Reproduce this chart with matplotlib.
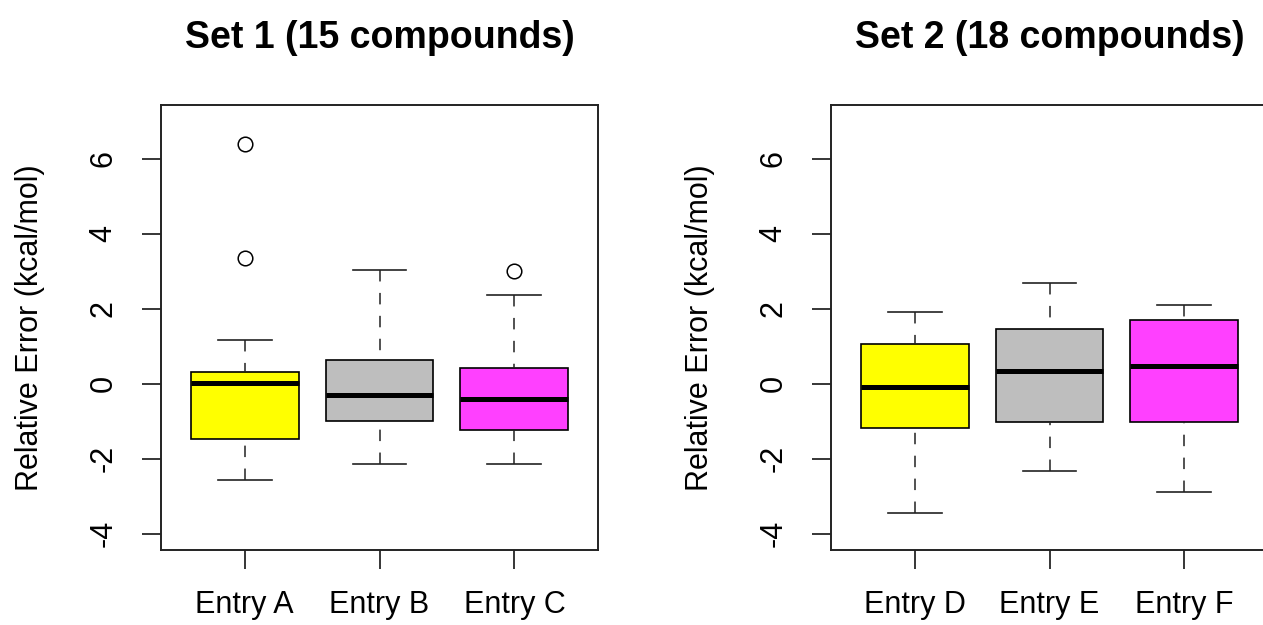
import matplotlib
matplotlib.use("Agg")
import matplotlib.pyplot as plt

# ------------------ data ------------------
SET1_TITLE  = "Set 1 (15 compounds)"
SET1_LABELS = ["Entry A", "Entry B", "Entry C"]
SET1_WHISLO = [-2.57, -2.15, -2.15]
SET1_Q1     = [-1.48, -1.00, -1.24]
SET1_MED    = [0.01, -0.29, -0.42]
SET1_Q3     = [0.31, 0.64, 0.42]
SET1_WHISHI = [1.16, 3.04, 2.37]
SET1_FLIERS = [[6.39, 3.35], [], [3.02]]

SET2_TITLE  = "Set 2 (18 compounds)"
SET2_LABELS = ["Entry D", "Entry E", "Entry F"]
SET2_WHISLO = [-3.44, -2.34, -2.89]
SET2_Q1     = [-1.19, -1.02, -1.03]
SET2_MED    = [-0.08, 0.33, 0.47]
SET2_Q3     = [1.07, 1.46, 1.69]
SET2_WHISHI = [1.91, 2.68, 2.11]
SET2_FLIERS = [[], [], []]

BOX_COLORS = ["#FFFF00", "#BEBEBE", "#FF40FF"]
Y_TICKS    = [-4, -2, 0, 2, 4, 6]
YLABEL     = "Relative Error (kcal/mol)"
# -----------------------------------------------------------------

plt.rcParams["font.family"] = ["Liberation Sans", "DejaVu Sans"]

W, H = 1263, 625
fig = plt.figure(figsize=(W / 100, H / 100), dpi=100)


def px_axes(left, top, right, bottom):
    return fig.add_axes([left / W, 1 - bottom / H, (right - left) / W, (bottom - top) / H])


def draw_panel(ax, title, labels, whislo, q1, med, q3, whishi, fliers):
    stats = []
    for i in range(len(labels)):
        stats.append({
            "label": labels[i],
            "whislo": whislo[i],
            "q1": q1[i],
            "med": med[i],
            "q3": q3[i],
            "whishi": whishi[i],
            "fliers": fliers[i],
        })

    bp = ax.bxp(
        stats,
        positions=[1, 2, 3],
        widths=0.8,
        capwidths=0.4,
        patch_artist=True,
        showfliers=True,
        boxprops=dict(edgecolor="black", linewidth=1.2),
        medianprops=dict(color="black", linewidth=3.6, solid_capstyle="butt"),
        whiskerprops=dict(color="#222222", linewidth=1.1, linestyle=(0, (7.5, 7.5))),
        capprops=dict(color="#222222", linewidth=1.2),
        flierprops=dict(marker="o", markersize=10.5, markerfacecolor="none",
                        markeredgecolor="black", markeredgewidth=1.1),
    )
    for patch, col in zip(bp["boxes"], BOX_COLORS):
        patch.set_facecolor(col)
    # R draws the dashed whiskers starting from the staple end
    for w in bp["whiskers"]:
        x, y = w.get_data()
        w.set_data(x[::-1], y[::-1])

    # R-style limits: ylim c(-4, 7), xlim c(0.5, 3.5), both padded by 4 %
    ax.set_xlim(0.38, 3.62)
    ax.set_ylim(-4.44, 7.44)

    ax.set_yticks(Y_TICKS)
    ax.set_yticklabels([str(t) for t in Y_TICKS])
    for lab in ax.get_yticklabels():
        lab.set_rotation(90)
        lab.set_va("center")
        lab.set_ha("right")

    ax.tick_params(axis="both", direction="out", length=13.5, width=1.1,
                   labelsize=22, colors="black")
    ax.tick_params(axis="y", pad=17)
    ax.tick_params(axis="x", pad=15)

    for sp in ax.spines.values():
        sp.set_linewidth(1.4)
        sp.set_color("#222222")

    ax.set_ylabel(YLABEL, fontsize=22, va="center")
    ax.yaxis.set_label_coords(-0.30, 0.5)

    ax.text(0.5, 1 + (105 - 48) / 445, title, transform=ax.transAxes,
            ha="center", va="baseline", fontsize=27, fontweight="bold")


ax1 = px_axes(161, 105, 598, 550)
draw_panel(ax1, SET1_TITLE, SET1_LABELS, SET1_WHISLO, SET1_Q1, SET1_MED,
           SET1_Q3, SET1_WHISHI, SET1_FLIERS)

# right panel runs past the figure edge, as in the reference
ax2 = px_axes(831, 105, 1268, 550)
draw_panel(ax2, SET2_TITLE, SET2_LABELS, SET2_WHISLO, SET2_Q1, SET2_MED,
           SET2_Q3, SET2_WHISHI, SET2_FLIERS)

fig.savefig("out.png", dpi=100)
